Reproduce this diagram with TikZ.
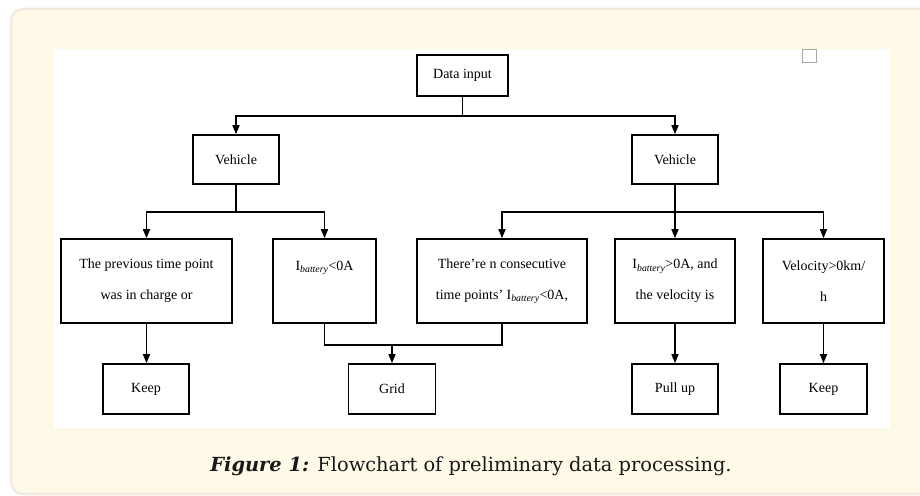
\documentclass[tikz,border=0pt]{standalone}
\usepackage{fontspec}
\setmainfont{Liberation Serif}
\newfontfamily\capfont{DejaVu Serif}
\usetikzlibrary{arrows.meta}
\definecolor{cardfill}{HTML}{FFFAE8}
\definecolor{cardline}{HTML}{F0EDE0}
\begin{document}
\begin{tikzpicture}[x=1pt,y=-1pt,
  box/.style={draw, line width=1.6pt, inner sep=0pt, font=\fontsize{14}{31}\selectfont, align=center},
  arr/.style={line width=1.5pt, -{Triangle[length=9pt,width=7pt]}},
  ln/.style={line width=1.5pt}]
\useasboundingbox (0,0) rectangle (920,495);
\clip (0,0) rectangle (920,495);
\draw[fill=cardfill, draw=cardline, line width=2.5pt, rounded corners=12pt] (11,9) rectangle (945,494);
\fill[white] (54,49) rectangle (890,428);
\draw[black!35, line width=0.8pt] (802,49) rectangle (816,62);
% row 0 and 1
\node[box, minimum width=91pt, minimum height=41pt] (din) at (462.5,75.5) {Data input};
\node[box, minimum width=86pt, minimum height=49pt] (vl) at (236,159.5) {Vehicle};
\node[box, minimum width=86pt, minimum height=49pt] (vr) at (675,159.5) {Vehicle};
% row 2
\node[box, minimum width=171pt, minimum height=84pt] (b1) at (146.5,281) {The previous time point\\was in charge or};
\node[box, minimum width=103pt, minimum height=84pt] (b2) at (324.5,281) {I\textsubscript{\textit{battery}}<0A\\\mbox{}};
\node[box, minimum width=170pt, minimum height=84pt] (b3) at (502,281) {There’re n consecutive\\time points’ I\textsubscript{\textit{battery}}<0A,};
\node[box, minimum width=120pt, minimum height=84pt] (b4) at (675,281) {I\textsubscript{\textit{battery}}>0A, and\\the velocity is};
\node[box, minimum width=121pt, minimum height=84pt] (b5) at (823.5,281) {Velocity>0km/\\h};
% row 3
\node[box, minimum width=86pt, minimum height=50pt] (k1) at (146,389) {Keep};
\node[box, minimum width=87pt, minimum height=50pt] (g) at (392,389) {Grid};
\node[box, minimum width=86pt, minimum height=50pt] (p) at (675,389) {Pull up};
\node[box, minimum width=87pt, minimum height=50pt] (k2) at (823.5,389) {Keep};
% connectors
\draw[ln] (din.south) -- ++(0,19) coordinate (j0);
\draw[arr] (j0) -| (vl.north);
\draw[arr] (j0) -| (vr.north);
\draw[ln] (vl.south) -- ++(0,27) coordinate (j1);
\draw[arr] (j1) -| (b1.north);
\draw[arr] (j1) -| (b2.north);
\draw[ln] (vr.south) -- ++(0,27) coordinate (j2);
\draw[arr] (j2) -| (b3.north);
\draw[arr] (j2) -- (b4.north);
\draw[arr] (j2) -| (b5.north);
\draw[arr] (b1.south) -- (b1.south |- k1.north);
\draw[ln] (b2.south) -- ++(0,21) coordinate (j3) -| (b3.south);
\draw[arr] (g.north |- j3) -- (g.north);
\draw[arr] (b4.south) -- (p.north);
\draw[arr] (b5.south) -- (b5.south |- k2.north);
% caption
\node[font=\capfont\fontsize{19.4}{22}\selectfont, text=black!90] (cap) at (471,466) {\textbf{\textit{Figure 1:}} Flowchart of preliminary data processing.};
\end{tikzpicture}
\end{document}
